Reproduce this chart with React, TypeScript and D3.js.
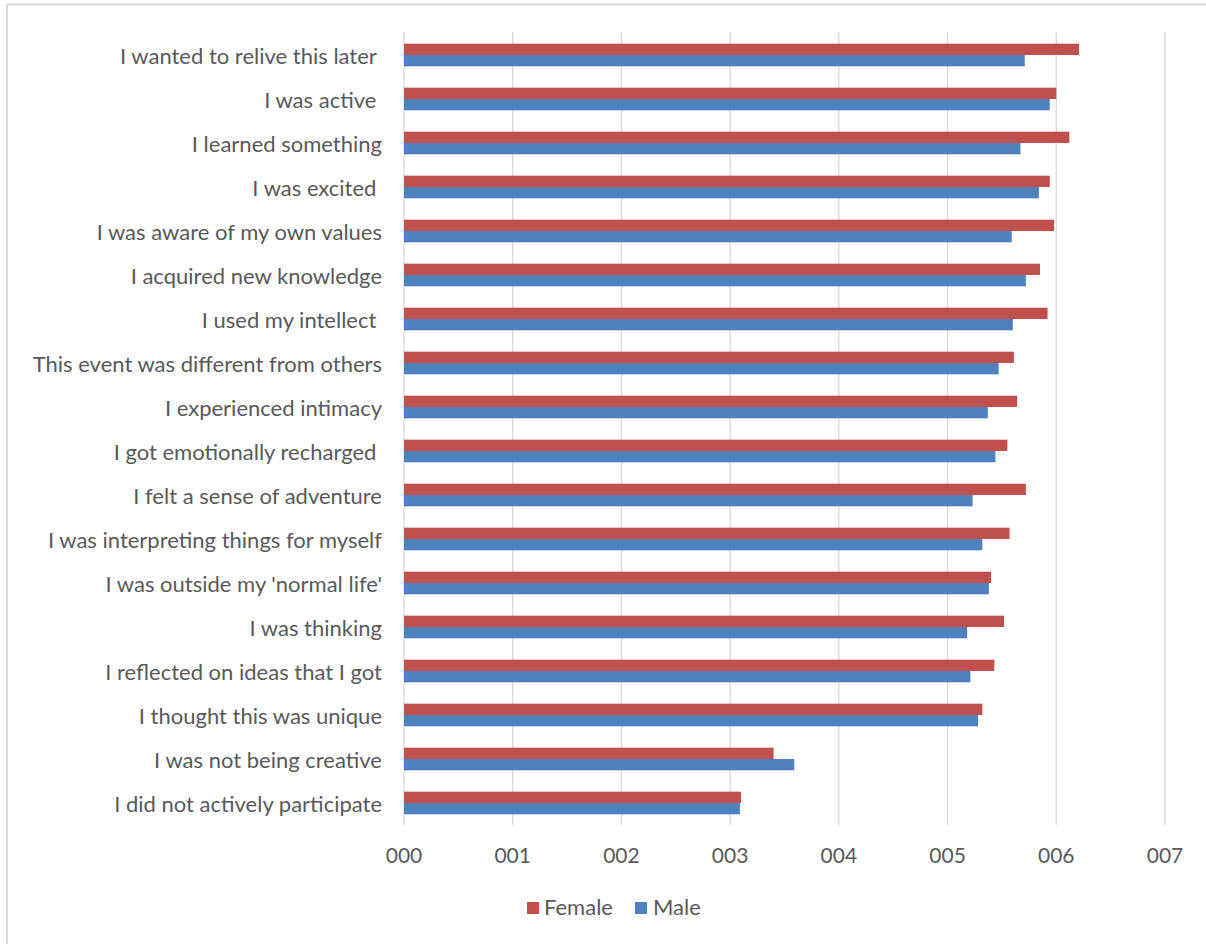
import React from "react";
import * as d3 from "d3";

const categories = [
  "I wanted to relive this later ",
  "I was active ",
  "I learned something",
  "I was excited ",
  "I was aware of my own values",
  "I acquired new knowledge",
  "I used my intellect ",
  "This event was different from others",
  "I experienced intimacy",
  "I got emotionally recharged ",
  "I felt a sense of adventure",
  "I was interpreting things for myself",
  "I was outside my 'normal life'",
  "I was thinking",
  "I reflected on ideas that I got",
  "I thought this was unique",
  "I was not being creative",
  "I did not actively participate",
];

const female = [6.21, 6.0, 6.12, 5.94, 5.98, 5.85, 5.92, 5.61, 5.64, 5.55, 5.72, 5.57, 5.4, 5.52, 5.43, 5.32, 3.4, 3.1];
const male = [5.71, 5.94, 5.67, 5.84, 5.59, 5.72, 5.6, 5.47, 5.37, 5.44, 5.23, 5.32, 5.38, 5.18, 5.21, 5.28, 3.59, 3.09];

const seriesNames = ["Female", "Male"];
const seriesColors = ["#C0504D", "#4F81BD"];
const tickValues = [0, 1, 2, 3, 4, 5, 6, 7];
const tickLabels = ["000", "001", "002", "003", "004", "005", "006", "007"];

const FONT = "Lato, 'Open Sans', sans-serif";
const TEXT = "#595959";
const GRID = "#D9D9D9";

export default function App() {
  const W = 1206;
  const H = 944;
  const x = d3.scaleLinear().domain([0, 7]).range([404, 1165]);
  const y = d3.scaleBand<string>().domain(categories).range([33, 825]).paddingInner(0.486).paddingOuter(0.243);
  const inner = d3.scaleBand<string>().domain(seriesNames).range([0, y.bandwidth()]);
  const seriesData = [female, male];

  return (
    <svg width={W} height={H} style={{ position: "absolute", left: 0, top: 0, background: "#fff" }}>
      <rect x={0} y={0} width={W} height={H} fill="#fff" />
      <line x1={6} x2={W} y1={4.5} y2={4.5} stroke={GRID} strokeWidth={2} />
      <line x1={7} x2={7} y1={4} y2={H} stroke={GRID} strokeWidth={2} />
      {tickValues.map((t) => (
        <line key={"g" + t} x1={x(t)} x2={x(t)} y1={32} y2={825} stroke={GRID} strokeWidth={1.3} />
      ))}
      {seriesData.map((vals, si) =>
        categories.map((c, i) => (
          <rect
            key={si + "-" + i}
            x={x(0)}
            y={(y(c) as number) + (inner(seriesNames[si]) as number)}
            width={x(vals[i]) - x(0)}
            height={inner.bandwidth()}
            fill={seriesColors[si]}
          />
        ))
      )}
      {categories.map((c) => (
        <text
          key={"l" + c}
          x={382}
          y={(y(c) as number) + y.bandwidth() / 2}
          textAnchor="end"
          dominantBaseline="central"
          fontFamily={FONT}
          fontSize={22}
          fill={TEXT}
          style={{ whiteSpace: "pre" }}
        >
          {c}
        </text>
      ))}
      {tickValues.map((t, i) => (
        <text key={"t" + t} x={x(t)} y={863} textAnchor="middle" fontFamily={FONT} fontSize={21} fill={TEXT}>
          {tickLabels[i]}
        </text>
      ))}
      <g>
        <rect x={527} y={902} width={12} height={12} fill={seriesColors[0]} />
        <text x={544} y={915} fontFamily={FONT} fontSize={22} fill={TEXT}>{seriesNames[0]}</text>
        <rect x={635} y={902} width={12} height={12} fill={seriesColors[1]} />
        <text x={653} y={915} fontFamily={FONT} fontSize={22} fill={TEXT}>{seriesNames[1]}</text>
      </g>
    </svg>
  );
}
